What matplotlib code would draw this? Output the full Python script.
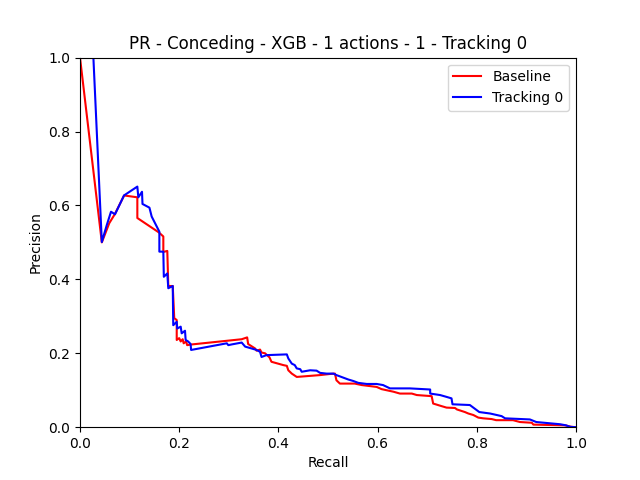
import matplotlib
matplotlib.use("Agg")
import matplotlib.pyplot as plt

# recall / precision
base_recall = [0.0, 0.044, 0.059, 0.07, 0.089, 0.1156, 0.1156, 0.159, 0.168, 0.168,
               0.176, 0.178, 0.187, 0.19, 0.195, 0.195, 0.2, 0.203, 0.207, 0.209,
               0.214, 0.216, 0.226, 0.326, 0.337, 0.339, 0.353, 0.356, 0.363, 0.366,
               0.373, 0.382, 0.386, 0.41, 0.417, 0.42, 0.427, 0.437, 0.484, 0.504,
               0.514, 0.517, 0.524, 0.554, 0.568, 0.598, 0.608, 0.632, 0.645, 0.669,
               0.679, 0.709, 0.712, 0.729, 0.739, 0.756, 0.76, 0.776, 0.783, 0.793,
               0.803, 0.813, 0.83, 0.839, 0.873, 0.887, 0.911, 0.914, 0.978, 0.991, 1.0]
base_precision = [1.0, 0.5, 0.552, 0.576, 0.627, 0.622, 0.566, 0.527, 0.516, 0.474,
                  0.477, 0.382, 0.382, 0.295, 0.29, 0.236, 0.241, 0.232, 0.238, 0.227,
                  0.232, 0.222, 0.224, 0.238, 0.243, 0.225, 0.213, 0.207, 0.21, 0.202,
                  0.2, 0.189, 0.177, 0.168, 0.166, 0.154, 0.145, 0.136, 0.141, 0.144,
                  0.145, 0.127, 0.118, 0.118, 0.114, 0.109, 0.103, 0.096, 0.091, 0.091,
                  0.087, 0.084, 0.064, 0.057, 0.053, 0.052, 0.048, 0.041, 0.037, 0.033,
                  0.026, 0.024, 0.022, 0.019, 0.019, 0.014, 0.012, 0.007, 0.005, 0.001, 0.0]

track_recall = [0.027, 0.044, 0.054, 0.0625, 0.0706, 0.0887, 0.1156, 0.1176, 0.125, 0.126,
                0.14, 0.1445, 0.16, 0.16, 0.168, 0.169, 0.176, 0.178, 0.187, 0.188,
                0.195, 0.196, 0.203, 0.205, 0.2117, 0.213, 0.218, 0.223, 0.224, 0.296,
                0.299, 0.306, 0.326, 0.333, 0.346, 0.356, 0.363, 0.366, 0.376, 0.417,
                0.42, 0.427, 0.433, 0.437, 0.444, 0.447, 0.464, 0.477, 0.484, 0.497,
                0.511, 0.517, 0.531, 0.541, 0.551, 0.561, 0.578, 0.598, 0.611, 0.625,
                0.665, 0.706, 0.706, 0.726, 0.739, 0.749, 0.751, 0.786, 0.796, 0.805,
                0.827, 0.85, 0.857, 0.907, 0.92, 0.968, 0.98, 0.988, 1.0]
track_precision = [1.0, 0.501, 0.547, 0.583, 0.576, 0.627, 0.651, 0.622, 0.637, 0.604,
                   0.594, 0.57, 0.529, 0.475, 0.475, 0.407, 0.416, 0.376, 0.382, 0.276,
                   0.285, 0.267, 0.272, 0.254, 0.261, 0.236, 0.232, 0.225, 0.209, 0.227,
                   0.222, 0.224, 0.229, 0.218, 0.213, 0.209, 0.204, 0.19, 0.195, 0.197,
                   0.186, 0.172, 0.168, 0.159, 0.157, 0.15, 0.154, 0.153, 0.147, 0.145,
                   0.145, 0.141, 0.134, 0.129, 0.125, 0.12, 0.117, 0.117, 0.114, 0.105,
                   0.105, 0.102, 0.091, 0.087, 0.082, 0.078, 0.062, 0.06, 0.05, 0.041,
                   0.037, 0.03, 0.024, 0.021, 0.014, 0.008, 0.005, 0.001, 0.0]

fig = plt.figure(figsize=(6.4, 4.8), dpi=100)
ax = fig.add_subplot(1, 1, 1)
ax.plot(base_recall, base_precision, color="red", label="Baseline")
ax.plot(track_recall, track_precision, color="blue", label="Tracking 0")
ax.set_xlim(0, 1)
ax.set_ylim(0, 1)
ax.set_xlabel("Recall")
ax.set_ylabel("Precision")
ax.set_title("PR - Conceding - XGB - 1 actions - 1 - Tracking 0")
ax.legend(loc="upper right")
fig.savefig("out.png")
